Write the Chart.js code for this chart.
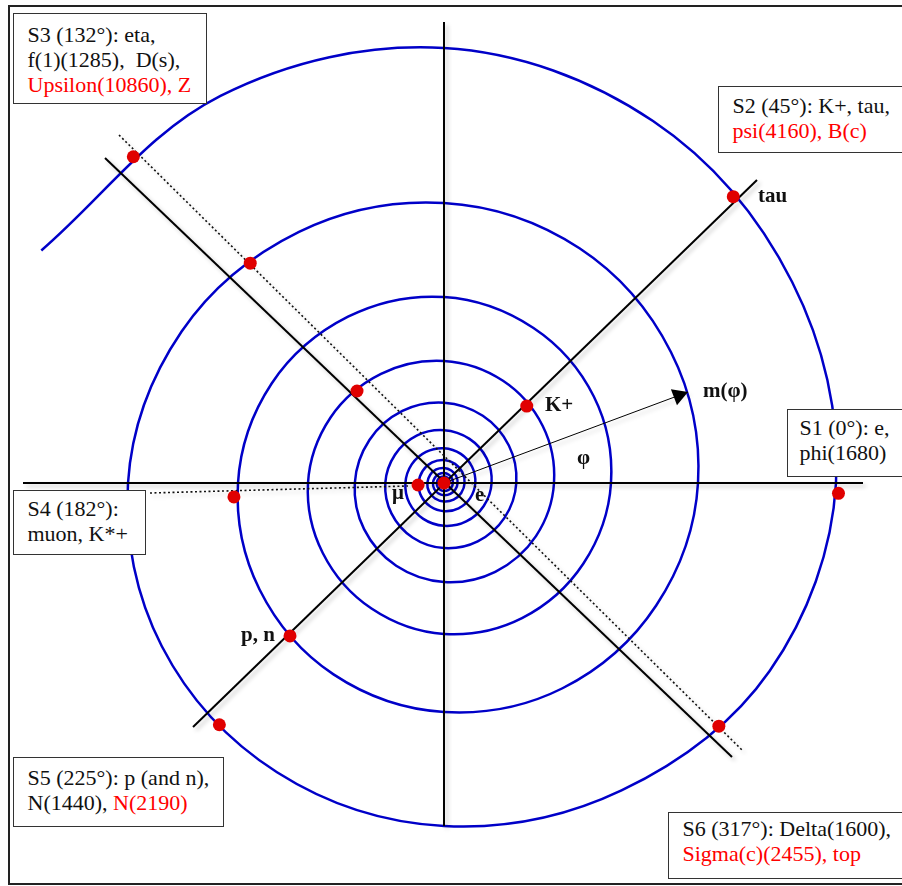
<!DOCTYPE html>
<html>
<head>
<meta charset="utf-8">
<title>Mass spiral</title>
<script src="https://cdn.jsdelivr.net/npm/chart.js@4.4.1/dist/chart.umd.min.js"></script>
<style>
  html, body { margin: 0; padding: 0; background: #fff; }
  #wrap { position: relative; width: 902px; height: 886px; overflow: hidden; }
  #frame { position: absolute; left: 8px; top: 5px; width: 902px; height: 880px; border: 2px solid #222; box-sizing: border-box; }
  #spiral { position: absolute; left: 0; top: 0; }
  .box { position: absolute; background: #fff; border: 1.5px solid #333; box-sizing: border-box;
         font-family: "Liberation Serif", "Times New Roman", serif; font-size: 22px; line-height: 25px;
         color: #111; white-space: nowrap; padding-left: 13.5px; }
  .red { color: #f00; }
  .lbl { position: absolute; font-family: "Liberation Serif", "Times New Roman", serif; font-weight: bold;
         font-size: 21px; line-height: 1; color: #111; white-space: nowrap; }
</style>
</head>
<body>
<div id="wrap">
  <div id="frame"></div>
  <canvas id="spiral" width="902" height="886"></canvas>

  <div class="box" style="left:13px;top:13px;width:194px;height:91px;padding-top:7.6px">S3 (132°): eta,<br>f(1)(1285),&nbsp; D(s),<br><span class="red">Upsilon(10860), Z</span></div>
  <div class="box" style="left:718px;top:86px;width:200px;height:67px;padding-top:5.6px">S2 (45°): K+, tau,<br><span class="red">psi(4160), B(c)</span></div>
  <div class="box" style="left:787px;top:409px;width:130px;height:68px;padding-top:5.3px;padding-left:11.5px">S1 (0°): e,<br>phi(1680)</div>
  <div class="box" style="left:13px;top:490px;width:133px;height:65px;padding-top:5.3px">S4 (182°):<br>muon, K*+</div>
  <div class="box" style="left:13px;top:757px;width:211px;height:70px;padding-top:6.6px">S5 (225°): p (and n),<br>N(1440), <span class="red">N(2190)</span></div>
  <div class="box" style="left:668px;top:812px;width:250px;height:67px;padding-top:3.3px">S6 (317°): Delta(1600),<br><span class="red">Sigma(c)(2455), top</span></div>

  <div class="lbl" style="left:545px;top:394px">K+</div>
  <div class="lbl" style="left:758px;top:185px">tau</div>
  <div class="lbl" style="left:703px;top:380px">m(φ)</div>
  <div class="lbl" style="left:577px;top:447px">φ</div>
  <div class="lbl" style="left:475px;top:484px">e</div>
  <div class="lbl" style="left:392px;top:482px">μ</div>
  <div class="lbl" style="left:241px;top:624px">p, n</div>
</div>
<script>
// Spiral: radius read every 30 degrees, one row per turn, from the innermost turn
// (hidden under the e dot) out to the loose end at 150 deg
const spiralStartDeg = -3600;
const spiralStepDeg = 30;
const spiralRadius = [
  5.9, 6.1, 6.3, 6.5, 6.7, 7.0, 7.2, 7.5, 7.8, 8.0, 8.3, 8.6,
  8.9, 9.2, 9.6, 9.9, 10.2, 10.6, 11.0, 11.4, 11.8, 12.2, 12.6, 13.1,
  13.6, 14.0, 14.5, 15.0, 15.6, 16.1, 16.7, 17.3, 17.9, 18.5, 19.2, 19.9,
  20.6, 21.3, 22.1, 22.9, 23.7, 24.5, 25.4, 26.3, 27.2, 28.2, 29.2, 30.2,
  31.3, 32.4, 33.6, 34.8, 36.0, 37.3, 38.6, 40.0, 41.4, 42.8, 44.4, 45.9,
  47.6, 49.3, 51.0, 52.8, 54.7, 56.6, 58.7, 60.7, 62.9, 65.1, 67.4, 69.8,
  72.3, 74.9, 77.6, 80.3, 83.2, 86.1, 89.2, 92.3, 95.6, 99.0, 102.5, 106.2,
  110, 114, 118, 122, 126, 131, 136, 140, 145, 151, 156, 161,
  167, 173, 179, 186, 192, 199, 206, 213, 221, 229, 237, 245,
  254, 262, 271, 280, 290, 303, 316, 326, 334, 343, 355, 376,
  392, 402, 418, 435, 447, 465
];

// particles on the spiral: angle (deg) and radius
const dotDeg = [0, -1.5, 42.9, 44.7, 133.6, 131.4, 133.4, 183.8, 184.4, 224.8, 227.1, 318.5];
const dotR   = [0, 394.6, 113, 407, 450.5, 293, 126.6, 210.5, 26, 217, 330, 367];

// straight lines through the centre, endpoints [x, y]
const solidLines = [
  [[0, 461], [0, -343]],
  [[-421, 0], [419, 0]],
  [[-251, -244], [313, 303]],
  [[-339, 325], [288, -274]]
];
const dottedLines = [
  [[-325, 348], [298, -267]],
  [[-294, -10], [-36, -3]]
];
const arrowTip = [244, 91];

function polar(deg, r) {
  const a = deg * Math.PI / 180;
  return { x: r * Math.cos(a), y: r * Math.sin(a) };
}

const spiralPts = spiralRadius.map((r, i) => polar(spiralStartDeg + i * spiralStepDeg, r));
const dotPts = dotDeg.map((d, i) => polar(d, dotR[i]));

const arrowLen = Math.hypot(arrowTip[0], arrowTip[1]);
const arrowDeg = Math.atan2(arrowTip[1], arrowTip[0]) * 180 / Math.PI;
const headR = 10;
const headPt = {
  x: arrowTip[0] - headR * arrowTip[0] / arrowLen,
  y: arrowTip[1] - headR * arrowTip[1] / arrowLen
};

const datasets = [];
// red dots first so they are drawn on top
datasets.push({
  data: dotPts, showLine: false, pointRadius: 6.5, pointBackgroundColor: '#e00000',
  pointBorderWidth: 0, pointHoverRadius: 6.5
});
datasets.push({
  data: [headPt], showLine: false, pointStyle: 'triangle', pointRadius: headR,
  rotation: 90 - arrowDeg, pointBackgroundColor: '#000', pointBorderWidth: 0
});
datasets.push({
  data: [{ x: 0, y: 0 }, { x: arrowTip[0], y: arrowTip[1] }], showLine: true,
  borderColor: '#000', borderWidth: 1, pointRadius: 0, shadow: true
});
dottedLines.forEach(l => datasets.push({
  data: l.map(p => ({ x: p[0], y: p[1] })), showLine: true, borderColor: '#111',
  borderWidth: 1.6, borderDash: [2, 2.5], pointRadius: 0, shadow: true
}));
solidLines.forEach(l => datasets.push({
  data: l.map(p => ({ x: p[0], y: p[1] })), showLine: true, borderColor: '#000',
  borderWidth: 2, pointRadius: 0, shadow: true
}));
datasets.push({
  data: spiralPts, showLine: true, borderColor: '#0000c8', borderWidth: 2.5,
  pointRadius: 0, tension: 0.35
});

// soft drop shadow under the black lines
const shadowPlugin = {
  id: 'lineShadow',
  beforeDatasetDraw(chart, args) {
    const ctx = chart.ctx;
    ctx.save();
    if (chart.data.datasets[args.index].shadow) {
      ctx.shadowColor = 'rgba(0,0,0,0.22)';
      ctx.shadowBlur = 4;
      ctx.shadowOffsetX = 3;
      ctx.shadowOffsetY = 3;
    }
  },
  afterDatasetDraw(chart) {
    chart.ctx.restore();
  }
};

new Chart(document.getElementById('spiral'), {
  type: 'scatter',
  data: { datasets: datasets },
  plugins: [shadowPlugin],
  options: {
    responsive: false,
    animation: false,
    devicePixelRatio: 1,
    events: [],
    layout: { padding: 0, autoPadding: false },
    plugins: { legend: { display: false }, tooltip: { enabled: false } },
    scales: {
      x: { type: 'linear', display: false, min: -444, max: 458 },
      y: { type: 'linear', display: false, min: -403, max: 483 }
    }
  }
});
</script>
</body>
</html>
